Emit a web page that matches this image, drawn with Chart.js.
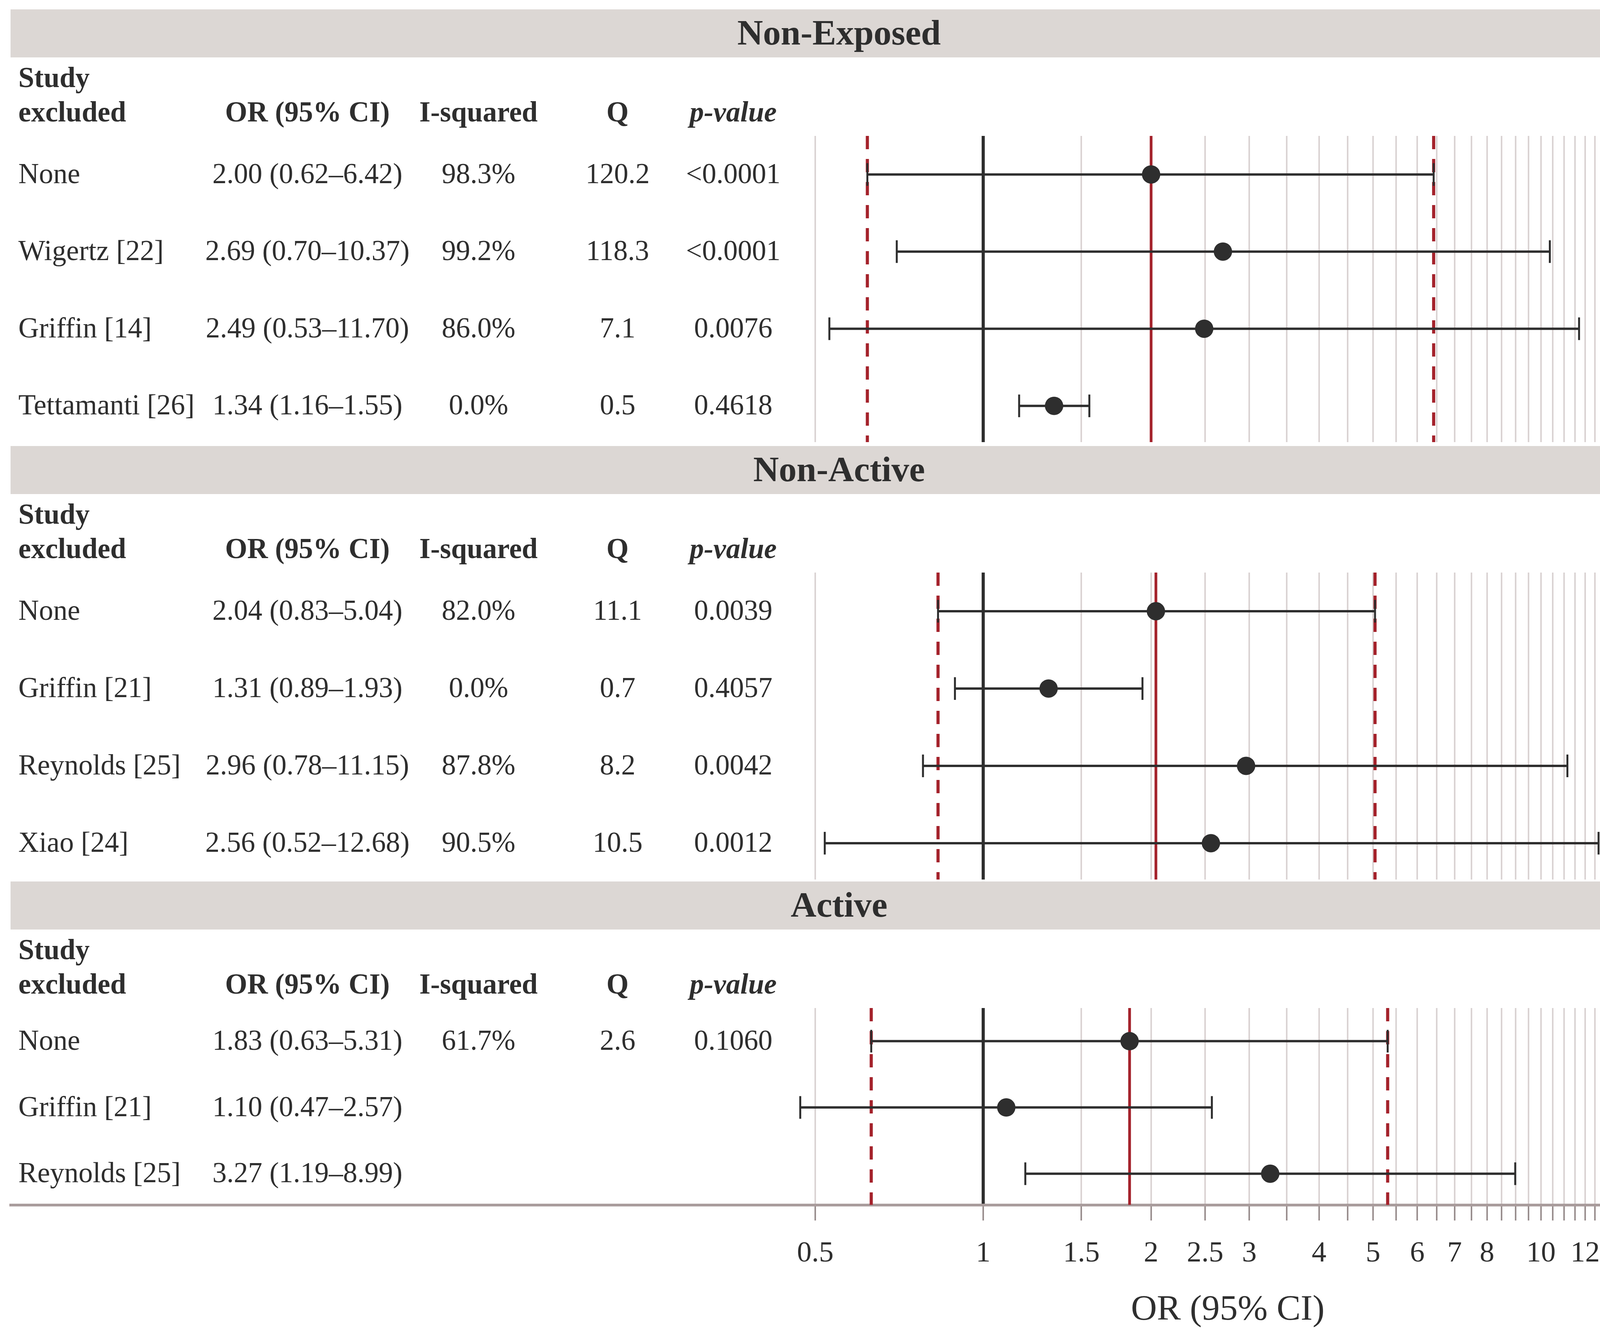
<!DOCTYPE html>
<html>
<head>
<meta charset="utf-8">
<script src="https://cdn.jsdelivr.net/npm/chart.js@4.4.1/dist/chart.umd.min.js"></script>
<style>
  html, body { margin: 0; padding: 0; background: #ffffff; }
  #page { position: relative; width: 4296px; height: 3431px; overflow: hidden; }
  #page canvas { position: absolute; left: 0; }
</style>
</head>
<body>
<div id="page">
  <canvas id="panel-exposed"></canvas>
  <canvas id="panel-nonactive"></canvas>
  <canvas id="panel-active"></canvas>
</div>
<script>
// ============ DATA ============
const panelTitles = ['Non-Exposed', 'Non-Active', 'Active'];

const exposedStudies = ['None', 'Wigertz [22]', 'Griffin [14]', 'Tettamanti [26]'];
const exposedOR = [2.00, 2.69, 2.49, 1.34];
const exposedLo = [0.62, 0.70, 0.53, 1.16];
const exposedHi = [6.42, 10.37, 11.70, 1.55];
const exposedI2 = ['98.3%', '99.2%', '86.0%', '0.0%'];
const exposedQ = ['120.2', '118.3', '7.1', '0.5'];
const exposedP = ['<0.0001', '<0.0001', '0.0076', '0.4618'];

const nonActiveStudies = ['None', 'Griffin [21]', 'Reynolds [25]', 'Xiao [24]'];
const nonActiveOR = [2.04, 1.31, 2.96, 2.56];
const nonActiveLo = [0.83, 0.89, 0.78, 0.52];
const nonActiveHi = [5.04, 1.93, 11.15, 12.68];
const nonActiveI2 = ['82.0%', '0.0%', '87.8%', '90.5%'];
const nonActiveQ = ['11.1', '0.7', '8.2', '10.5'];
const nonActiveP = ['0.0039', '0.4057', '0.0042', '0.0012'];

const activeStudies = ['None', 'Griffin [21]', 'Reynolds [25]'];
const activeOR = [1.83, 1.10, 3.27];
const activeLo = [0.63, 0.47, 1.19];
const activeHi = [5.31, 2.57, 8.99];
const activeI2 = ['61.7%', '', ''];
const activeQ = ['2.6', '', ''];
const activeP = ['0.1060', '', ''];

const gridValues = [0.5, 1, 1.5, 2, 2.5, 3, 3.5, 4, 4.5, 5, 5.5, 6, 6.5, 7, 7.5, 8, 8.5, 9, 9.5,
  10, 10.5, 11, 11.5, 12, 12.5, 13, 13.5, 14, 14.5, 15];
const tickLabels = [0.5, 1, 1.5, 2, 2.5, 3, 4, 5, 6, 7, 8, 10, 12, 15];
const columnHeaders = ['OR (95% CI)', 'I-squared', 'Q', 'p-value'];

// ============ STYLE ============
const FONT = "'Liberation Serif', 'Times New Roman', Times, serif";
const INK = '#2e2e2e';
const RED = '#a4222b';
const GRID = '#dad3d3';
const BAND = '#dcd7d4';
const X_MIN = 0.01805;
const X_MAX = 16.86;
const COL = { study: 47, or: 787, i2: 1225, q: 1581, p: 1877 };

// ============ TABLE / BAND PLUGIN ============
const forestTable = {
  id: 'forestTable',
  afterDraw(chart, args, opts) {
    const { ctx, chartArea } = chart;
    const ys = chart.scales.y;
    const top = chartArea.top;
    ctx.save();
    ctx.fillStyle = BAND;
    ctx.fillRect(chartArea.left, top - 324, chartArea.right - chartArea.left, 123);

    ctx.fillStyle = INK;
    ctx.textBaseline = 'middle';
    ctx.textAlign = 'center';
    ctx.font = `bold 91px ${FONT}`;
    ctx.fillText(opts.title, (chartArea.left + chartArea.right) / 2, top - 258);

    ctx.font = `bold 73px ${FONT}`;
    ctx.textAlign = 'left';
    ctx.fillText('Study', COL.study, top - 144);
    ctx.fillText('excluded', COL.study, top - 56);
    ctx.textAlign = 'center';
    ctx.fillText(columnHeaders[0], COL.or, top - 56);
    ctx.fillText(columnHeaders[1], COL.i2, top - 56);
    ctx.fillText(columnHeaders[2], COL.q, top - 56);
    ctx.font = `italic bold 73px ${FONT}`;
    ctx.fillText(columnHeaders[3], COL.p, top - 56);

    ctx.font = `73px ${FONT}`;
    opts.studies.forEach((s, i) => {
      const y = ys.getPixelForValue(i + 1) + 3;
      ctx.textAlign = 'left';
      ctx.fillText(s, COL.study, y);
      ctx.textAlign = 'center';
      const txt = `${opts.or[i].toFixed(2)} (${opts.lo[i].toFixed(2)}\u2013${opts.hi[i].toFixed(2)})`;
      ctx.fillText(txt, COL.or, y);
      ctx.fillText(opts.i2[i], COL.i2, y);
      ctx.fillText(opts.q[i], COL.q, y);
      ctx.fillText(opts.p[i], COL.p, y);
    });

    if (opts.axisTitle) {
      ctx.font = `92px ${FONT}`;
      ctx.textAlign = 'center';
      ctx.fillText(opts.axisTitle, 3143, opts.axisTitleY);
    }
    ctx.restore();
  }
};

// ============ PANELS ============
function buildPanel(id, canvasTop, height, padTop, padBottom, yMax, d, isBottom) {
  const canvas = document.getElementById(id);
  canvas.width = 4296;
  canvas.height = height;
  canvas.style.top = canvasTop + 'px';
  canvas.style.width = '4296px';
  canvas.style.height = height + 'px';

  const yMin = 0.5;
  const datasets = [];
  // pooled estimate and its CI (from the "None" row)
  datasets.push({ type: 'line', data: [{ x: d.or[0], y: yMin }, { x: d.or[0], y: yMax }],
    borderColor: RED, borderWidth: 7, pointRadius: 0, order: 5 });
  [d.lo[0], d.hi[0]].forEach(v => datasets.push({ type: 'line',
    data: [{ x: v, y: yMin }, { x: v, y: yMax }],
    borderColor: RED, borderWidth: 8, borderDash: [34, 25], pointRadius: 0, order: 5 }));
  // confidence intervals with end caps
  d.or.forEach((_, i) => datasets.push({ type: 'line',
    data: [{ x: d.lo[i], y: i + 1 }, { x: d.hi[i], y: i + 1 }],
    borderColor: INK, borderWidth: 6, pointStyle: 'line', pointRotation: 90,
    pointRadius: 29, pointBorderWidth: 5, pointBorderColor: INK, order: 3 }));
  // point estimates
  datasets.push({ type: 'scatter', data: d.or.map((v, i) => ({ x: v, y: i + 1 })),
    pointRadius: 23.5, pointBackgroundColor: INK, pointBorderWidth: 0, order: 1 });

  return new Chart(canvas, {
    type: 'scatter',
    data: { datasets },
    options: {
      responsive: false,
      animation: false,
      devicePixelRatio: 1,
      layout: { autoPadding: false, padding: { top: padTop, bottom: padBottom, left: 27, right: 27 } },
      plugins: {
        legend: { display: false },
        tooltip: { enabled: false },
        forestTable: Object.assign({ title: d.title }, d)
      },
      scales: {
        x: {
          type: 'logarithmic', min: X_MIN, max: X_MAX,
          afterBuildTicks: axis => { axis.ticks = gridValues.map(v => ({ value: v })); },
          afterFit: axis => { axis.height = isBottom ? 346 : 0; },
          border: { display: isBottom, color: '#a99c9c', width: 7 },
          grid: {
            color: c => (c.tick && c.tick.value === 1 ? INK : GRID),
            lineWidth: c => (c.tick && c.tick.value === 1 ? 8 : 4),
            drawTicks: isBottom, tickLength: 40, tickColor: '#9a8f8f', tickWidth: 4
          },
          ticks: {
            display: isBottom, autoSkip: false, maxRotation: 0, padding: 40,
            color: INK, font: { family: FONT, size: 75 },
            callback: v => (tickLabels.includes(v) ? String(v) : '')
          }
        },
        y: { display: false, reverse: true, min: yMin, max: yMax }
      }
    },
    plugins: [forestTable]
  });
}

buildPanel('panel-exposed', 18, 1118, 330, 4, 4.47, {
  title: panelTitles[0], studies: exposedStudies, or: exposedOR, lo: exposedLo, hi: exposedHi,
  i2: exposedI2, q: exposedQ, p: exposedP
}, false);

buildPanel('panel-nonactive', 1136, 1120, 330, 4, 4.47, {
  title: panelTitles[1], studies: nonActiveStudies, or: nonActiveOR, lo: nonActiveLo, hi: nonActiveHi,
  i2: nonActiveI2, q: nonActiveQ, p: nonActiveP
}, false);

buildPanel('panel-active', 2256, 1175, 325, 0, 3.47, {
  title: panelTitles[2], studies: activeStudies, or: activeOR, lo: activeLo, hi: activeHi,
  i2: activeI2, q: activeQ, p: activeP, axisTitle: 'OR (95% CI)', axisTitleY: 1099
}, true);
</script>
</body>
</html>
